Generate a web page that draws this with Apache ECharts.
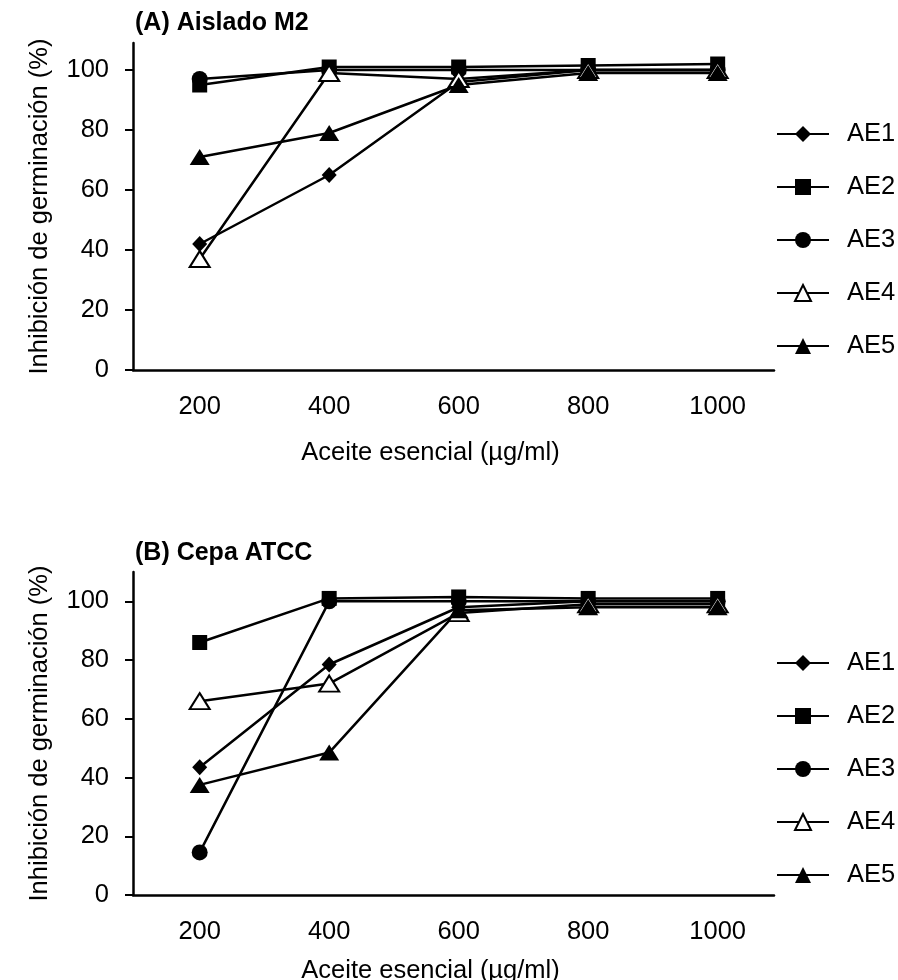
<!DOCTYPE html>
<html>
<head>
    <meta charset="utf-8">
    <title>Inhibición de germinación</title>
    <style>
        body { margin: 0; background: #fff; }
    </style>
</head>
<body>
    <div id="main" style="width: 898px;height:980px;"></div>
    <script src="https://cdn.jsdelivr.net/npm/echarts@6/dist/echarts.min.js"></script>
    <script>
        // datos ------------------
        var doses = [200, 400, 600, 800, 1000];
        var seriesNames = ['AE1', 'AE2', 'AE3', 'AE4', 'AE5'];
        var yTicks = [0, 20, 40, 60, 80, 100];

        // (A) Aislado M2
        var a_AE1 = [42, 65, 96, 100, 100];
        var a_AE2 = [95, 101, 101, 101.5, 102];
        var a_AE3 = [97, 100, 100, 100, 100];
        var a_AE4 = [37, 99, 97, 100, 100];
        var a_AE5 = [71, 79, 95, 99, 99];

        // (B) Cepa ATCC
        var b_AE1 = [43.5, 78.5, 98, 100, 100];
        var b_AE2 = [86, 101, 101.5, 101, 101];
        var b_AE3 = [14.5, 100, 100, 100, 100];
        var b_AE4 = [66, 72, 96, 99, 99];
        var b_AE5 = [37.5, 48.5, 97, 98, 98];

        var panelA = [a_AE1, a_AE2, a_AE3, a_AE4, a_AE5];
        var panelB = [b_AE1, b_AE2, b_AE3, b_AE4, b_AE5];

        var font = 'Liberation Sans, Arial, sans-serif';
        var fs = 25.5;
        // marcador de cada serie
        var markers = [
            {symbol: 'diamond', size: [15, 16], fill: '#000'},
            {symbol: 'rect', size: 15, fill: '#000'},
            {symbol: 'circle', size: 16, fill: '#000'},
            {symbol: 'triangle', size: [20, 16], fill: '#fff'},
            {symbol: 'triangle', size: [20, 16], fill: '#000'}
        ];

        function pairs(vals) {
            return doses.map(function (d, i) { return [d, vals[i]]; });
        }

        function makeSeries(panel, idx) {
            return panel.map(function (vals, i) {
                var m = markers[i];
                return {
                    name: seriesNames[i],
                    type: 'line',
                    xAxisIndex: idx,
                    yAxisIndex: idx,
                    data: pairs(vals),
                    symbol: m.symbol,
                    symbolSize: m.size,
                    showAllSymbol: true,
                    lineStyle: {color: '#000', width: 2.5},
                    itemStyle: {color: m.fill, borderColor: '#000', borderWidth: i === 3 ? 2 : 0, opacity: 1},
                    emphasis: {disabled: true},
                    animation: false
                };
            });
        }

        function xAx(idx) {
            return {
                type: 'value',
                gridIndex: idx,
                min: 97,
                max: 1087,
                name: 'Aceite esencial (µg/ml)',
                nameLocation: 'middle',
                nameGap: idx === 0 ? 70 : 63,
                nameTextStyle: {fontSize: fs, color: '#000', fontFamily: font, padding: [0, 46, 0, 0]},
                axisLine: {lineStyle: {color: '#000', width: 2.5}},
                axisTick: {show: false},
                splitLine: {show: false},
                axisLabel: {
                    fontSize: fs, color: '#000', fontFamily: font, margin: 24, customValues: doses,
                    formatter: function (v) { return String(v); }
                }
            };
        }

        function yAx(idx, max) {
            return {
                type: 'value',
                gridIndex: idx,
                min: 0,
                max: max,
                name: 'Inhibición de germinación (%)',
                nameLocation: 'middle',
                nameGap: 80,
                nameTextStyle: {fontSize: fs, color: '#000', fontFamily: font},
                axisLine: {show: true, lineStyle: {color: '#000', width: 2.5}},
                axisTick: {show: true, length: 8, lineStyle: {width: 2}, customValues: yTicks},
                splitLine: {show: false},
                axisLabel: {fontSize: fs, color: '#000', fontFamily: font, margin: 24, customValues: yTicks}
            };
        }

        function legendFor(top) {
            return {
                orient: 'vertical',
                left: 776,
                top: top,
                padding: 0,
                itemWidth: 52,
                itemHeight: 20,
                itemGap: 27,
                selectedMode: false,
                data: seriesNames,
                textStyle: {fontSize: fs, color: '#000', fontFamily: font, padding: [0, 0, 0, 13]}
            };
        }

        var myChart = echarts.init(document.getElementById('main'));
        var option = {
            animation: false,
            textStyle: {fontFamily: font},
            title: [
                {text: '(A) Aislado M2', left: 130, top: 6,
                    textStyle: {fontSize: 25, fontWeight: 'bold', color: '#000', fontFamily: font}},
                {text: '(B) Cepa ATCC', left: 130, top: 536,
                    textStyle: {fontSize: 25, fontWeight: 'bold', color: '#000', fontFamily: font}}
            ],
            legend: [legendFor(121), legendFor(650)],
            grid: [
                {left: 133, top: 43, width: 641, height: 327, outerBoundsMode: 'none'},
                {left: 133, top: 572, width: 641, height: 323, outerBoundsMode: 'none'}
            ],
            xAxis: [xAx(0), xAx(1)],
            yAxis: [yAx(0, 109), yAx(1, 110)],
            series: makeSeries(panelA, 0).concat(makeSeries(panelB, 1))
        };
        myChart.setOption(option);
    </script>
</body>
</html>
